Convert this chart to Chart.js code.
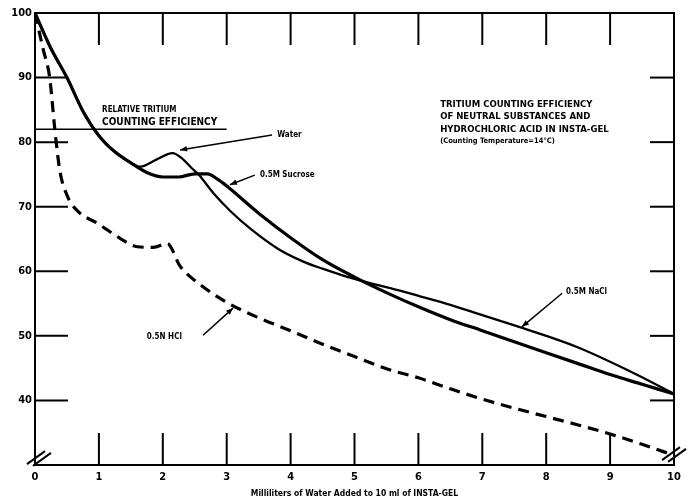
<!DOCTYPE html>
<html>
<head>
<meta charset="utf-8">
<script src="https://cdn.jsdelivr.net/npm/chart.js@4.4.1/dist/chart.umd.min.js"></script>
<style>
html,body{margin:0;padding:0;background:#fff;}
#wrap{width:689px;height:504px;position:relative;}
</style>
</head>
<body>
<div id="wrap"><canvas id="c" width="689" height="504"></canvas></div>
<script>
// ---- data (x = ml of water added, y = relative efficiency %) ----
const xTickLabels = ['0','1','2','3','4','5','6','7','8','9','10'];
const yTickLabels = ['40','50','60','70','80','90','100'];

const waterNaClPoints = [
  [0,100],[0.25,94.5],[0.5,90],[0.75,84.8],[1,81],[1.25,78.5],[1.5,76.8],[1.65,76.2],
  [1.9,77.3],[2.15,78.3],[2.3,77.5],[2.45,76.0],[2.55,75.1],[2.8,72],[3.06,69.3],
  [3.37,66.6],[3.8,63.5],[4.2,61.5],[4.5,60.4],[4.9,59.1],[5.2,58.3],[5.56,57.4],
  [6,56.2],[6.5,54.8],[7,53.2],[7.6,51.3],[8,50],[8.5,48.2],[9,46.0],[9.5,43.6],[10,41]
];
const sucrosePoints = [
  [0,100],[0.25,94.5],[0.5,90],[0.75,84.8],[1,81],[1.25,78.5],[1.5,76.8],[1.75,75.3],
  [2,74.6],[2.25,74.6],[2.5,75.1],[2.7,75.1],[2.85,74.3],[3,73.2],[3.5,69],[4,65.2],
  [4.5,61.8],[5,59.1],[5.5,56.7],[6,54.5],[6.5,52.5],[7,50.8],[7.5,49.1],[8,47.4],
  [8.5,45.7],[9,44.0],[9.5,42.5],[10,41]
];
const hclPoints = [
  [0,100],[0.13,94.3],[0.23,90],[0.31,82],[0.39,75.5],[0.5,71.8],[0.65,69.5],[1,67.3],
  [1.33,65.1],[1.6,63.8],[1.85,63.7],[2.07,64.3],[2.27,60.8],[2.55,58.2],[3,55.2],
  [3.5,52.8],[4,50.8],[4.5,48.7],[5,46.8],[5.5,44.9],[6,43.5],[6.5,41.8],[7,40.2],
  [7.5,38.8],[8,37.5],[8.5,36.2],[9,34.8],[9.5,33.2],[10,31.5]
];
const referencePoints = [[0,82],[3,82]];

// ---- annotations (data units) ----
const titleLines = ['TRITIUM COUNTING EFFICIENCY','OF NEUTRAL SUBSTANCES AND','HYDROCHLORIC ACID IN INSTA-GEL'];
const titleSub = '(Counting Temperature=14°C)';
const labels = [
  {text:'Water', x:3.79, y:81.1, from:[3.71,81.1], to:[2.27,78.8]},
  {text:'0.5M Sucrose', x:3.52, y:74.9, from:[3.44,74.9], to:[3.05,73.4]},
  {text:'0.5M NaCl', x:8.31, y:56.8, from:[8.25,56.6], to:[7.62,51.4]},
  {text:'0.5N HCl', x:1.75, y:49.8, from:[2.63,50.1], to:[3.1,54.3]}
];

const toXY = arr => arr.map(p => ({x:p[0], y:p[1]}));
const FONT = "'DejaVu Sans Condensed','Liberation Sans Narrow','DejaVu Sans',sans-serif";

const decor = {
  id:'decor',
  beforeDraw(chart){
    const ctx = chart.ctx;
    ctx.save(); ctx.fillStyle='#fff'; ctx.fillRect(0,0,chart.width,chart.height); ctx.restore();
  },
  afterDatasetsDraw(chart){
    const ctx = chart.ctx, xs = chart.scales.x, ys = chart.scales.y, a = chart.chartArea;
    const X = v => xs.getPixelForValue(v), Y = v => ys.getPixelForValue(v);
    ctx.save();
    ctx.strokeStyle='#000'; ctx.fillStyle='#000'; ctx.lineCap='butt';
    // frame top & right
    ctx.lineWidth=2;
    ctx.beginPath(); ctx.moveTo(a.left,a.top); ctx.lineTo(a.right,a.top); ctx.lineTo(a.right,a.bottom); ctx.stroke();
    // inner ticks
    for(let i=1;i<=9;i++){
      const px = X(i);
      ctx.beginPath(); ctx.moveTo(px,a.top); ctx.lineTo(px,a.top+32); ctx.stroke();
      ctx.beginPath(); ctx.moveTo(px,a.bottom); ctx.lineTo(px,a.bottom-32); ctx.stroke();
    }
    for(let v=40; v<=90; v+=10){
      const py = Y(v);
      ctx.beginPath(); ctx.moveTo(a.left,py); ctx.lineTo(a.left+33,py); ctx.stroke();
      ctx.beginPath(); ctx.moveTo(a.right,py); ctx.lineTo(a.right-24,py); ctx.stroke();
    }
    // break marks
    const brk = (cx,cy) => {
      for(const d of [-3,3]){
        ctx.beginPath(); ctx.moveTo(cx-9+d,cy+6+d*0.3); ctx.lineTo(cx+9+d,cy-7+d*0.3); ctx.stroke();
      }
    };
    brk(a.left+4, a.bottom-6);
    brk(a.right, a.bottom-10);
    // annotation texts & arrows
    ctx.textBaseline='middle';
    ctx.font = "bold 8px "+FONT;
    for(const l of labels){
      ctx.textAlign='left';
      ctx.fillText(l.text, X(l.x), Y(l.y));
      const x1=X(l.from[0]), y1=Y(l.from[1]), x2=X(l.to[0]), y2=Y(l.to[1]);
      ctx.lineWidth=1.5;
      ctx.beginPath(); ctx.moveTo(x1,y1); ctx.lineTo(x2,y2); ctx.stroke();
      const ang = Math.atan2(y2-y1,x2-x1), L=7, W=2.8;
      ctx.beginPath();
      ctx.moveTo(x2,y2);
      ctx.lineTo(x2-L*Math.cos(ang)+W*Math.sin(ang), y2-L*Math.sin(ang)-W*Math.cos(ang));
      ctx.lineTo(x2-L*Math.cos(ang)-W*Math.sin(ang), y2-L*Math.sin(ang)+W*Math.cos(ang));
      ctx.closePath(); ctx.fill();
    }
    // reference label
    ctx.font = "bold 8px "+FONT;
    ctx.fillText('RELATIVE TRITIUM', X(1.05), Y(85.0));
    ctx.font = "bold 10px "+FONT;
    ctx.fillText('COUNTING EFFICIENCY', X(1.05), Y(83.1));
    // title
    ctx.font = "bold 9.5px "+FONT;
    const tY = [85.9, 83.9, 82.0];
    titleLines.forEach((t,i)=>ctx.fillText(t, X(6.34), Y(tY[i])));
    ctx.font = "bold 7.5px "+FONT;
    ctx.fillText(titleSub, X(6.34), Y(80.2));
    ctx.restore();
  }
};

new Chart(document.getElementById('c'), {
  type:'line',
  data:{
    datasets:[
      {label:'Water / 0.5M NaCl', data:toXY(waterNaClPoints), borderColor:'#000', borderWidth:2.3, pointRadius:0, cubicInterpolationMode:'monotone', fill:false},
      {label:'0.5M Sucrose', data:toXY(sucrosePoints), borderColor:'#000', borderWidth:3.2, pointRadius:0, cubicInterpolationMode:'monotone', fill:false},
      {label:'0.5N HCl', data:toXY(hclPoints), borderColor:'#000', borderWidth:3.2, borderDash:[11,7], pointRadius:0, cubicInterpolationMode:'monotone', fill:false},
      {label:'Relative tritium counting efficiency', data:toXY(referencePoints), borderColor:'#000', borderWidth:1.5, pointRadius:0, fill:false}
    ]
  },
  options:{
    responsive:false, animation:false, devicePixelRatio:1,
    layout:{padding:{top:13,right:15,left:0,bottom:0}},
    plugins:{legend:{display:false}, tooltip:{enabled:false}},
    scales:{
      x:{
        type:'linear', min:0, max:10,
        afterFit(s){ s.height = 39; },
        grid:{display:false, drawTicks:false},
        border:{display:true, color:'#000', width:2},
        ticks:{stepSize:1, padding:6, color:'#000', font:{family:FONT, weight:'bold', size:11},
               callback:(v)=> xTickLabels[Math.round(v)] ?? ''},
        title:{display:true, text:'Milliliters of Water Added to 10 ml of INSTA-GEL', color:'#000',
               font:{family:FONT, weight:'bold', size:8.5}, padding:{top:0,bottom:5}}
      },
      y:{
        type:'linear', min:30, max:100,
        afterFit(s){ s.width = 35; },
        grid:{display:false, drawTicks:false},
        border:{display:true, color:'#000', width:2},
        ticks:{stepSize:10, padding:3, color:'#000', font:{family:FONT, weight:'bold', size:11},
               callback:(v)=> yTickLabels.includes(String(v)) ? String(v) : ''}
      }
    }
  },
  plugins:[decor]
});
</script>
</body>
</html>
